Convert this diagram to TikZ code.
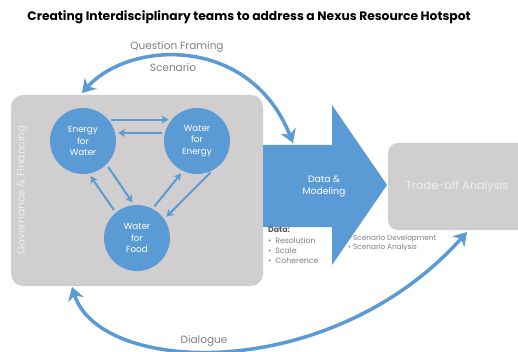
\documentclass[tikz,border=0pt]{standalone}
\usepackage{fontspec}
\setmainfont{Poppins}
\usetikzlibrary{arrows.meta,calc}
\definecolor{nblue}{HTML}{5B9BD5}
\definecolor{ngray}{HTML}{D0CECE}
\definecolor{tgray}{HTML}{808080}
\definecolor{dgray}{HTML}{595959}
\definecolor{lgray}{HTML}{EFEFEF}
\tikzset{
  hub/.style={circle, fill=nblue, minimum size=66pt, inner sep=0pt, text=white,
    font=\fontsize{8.8}{11.5}\selectfont, align=center},
  link/.style={nblue, line width=2pt, -{Stealth[length=7pt,width=8pt,inset=2pt]},
    shorten >=3pt, shorten <=3pt},
  bigarc/.style={nblue, line width=3.5pt,
    {Stealth[length=13pt,width=16pt,inset=4pt]}-{Stealth[length=13pt,width=16pt,inset=4pt]}},
  graybox/.style={fill=ngray, rounded corners=12pt, inner sep=0pt},
  lbl/.style={text=tgray, font=\fontsize{10.5}{12}\selectfont, inner sep=0pt},
  small/.style={text=tgray, font=\fontsize{7.8}{10}\selectfont, inner sep=0pt, align=left, anchor=north west}
}
\begin{document}
\begin{tikzpicture}[x=1pt,y=-1pt]
\clip (0,0) rectangle (518,352);
\fill[white] (0,0) rectangle (518,352);
% title
\node[font=\bfseries\fontsize{12.3}{14}\selectfont, inner sep=0pt] (title) at (249,17)
  {Creating Interdisciplinary teams to address a Nexus Resource Hotspot};
% governance box
\node[graybox, minimum width=252pt, minimum height=191pt] (gov) at (137,190.5) {};
\node[rotate=90, text=lgray, font=\fontsize{10.5}{12}\selectfont, inner sep=0pt] (govl) at (22,190)
  {Governance \& Financing};
% trade-off box
\node[graybox, rounded corners=10pt, minimum width=140pt, minimum height=87pt] (trade) at (458,186.5) {};
\node[text=lgray, font=\fontsize{11.3}{13}\selectfont, inner sep=0pt] (tradel) at (457,187) {Trade-off Analysis};
% big arrow
\path[fill=nblue] (263,145) -- (332,145) -- (332,105) -- (387,185) -- (332,265) -- (332,227) -- (263,227) -- cycle;
\node[text=white, font=\fontsize{9.3}{12}\selectfont, align=center, inner sep=0pt] (dm) at (324,186) {Data \&\\Modeling};
% hubs
\node[hub] (efw) at (83,141) {Energy\\for\\Water};
\node[hub] (wfe) at (197,141) {Water\\for\\Energy};
\node[hub] (wff) at (137,238) {Water\\for\\Food};
\draw[link] (efw.40) -- (wfe.140);
\draw[link] (wfe.166) -- (efw.14);
\draw[link] (efw.-45) -- (wff.95);
\draw[link] (wff.130) -- (efw.-80);
\draw[link] (wff.62) -- (wfe.245);
\draw[link] (wfe.-62) -- (wff.35);
% data text
\node[small, text=dgray, font=\bfseries\fontsize{7.8}{10}\selectfont] (datah) at (268,227) {Data:};
\node[small] (datal) at (268,237.5) {\textbullet\enspace Resolution\\\textbullet\enspace Scale\\\textbullet\enspace Coherence};
\node[small, font=\fontsize{7.3}{9}\selectfont] (scen) at (348,235) {\textbullet\ Scenario Development\\\textbullet\ Scenario Analysis};
% question framing arc
\coordinate (qa) at (82,93);
\coordinate (qb) at (293,143);
\draw[bigarc] (qa) .. controls (130,40) and (250,35) .. (qb);
\node[lbl] (qf) at (177,47) {Question Framing};
\node[lbl] (sc) at (173,68) {Scenario};
% dialogue arc
\coordinate (da) at (72,287);
\coordinate (db) at (467,232);
\draw[bigarc] (da) .. controls (100,375) and (330,385) .. (db);
\node[lbl] (dl) at (204,341) {Dialogue};
\end{tikzpicture}
\end{document}
